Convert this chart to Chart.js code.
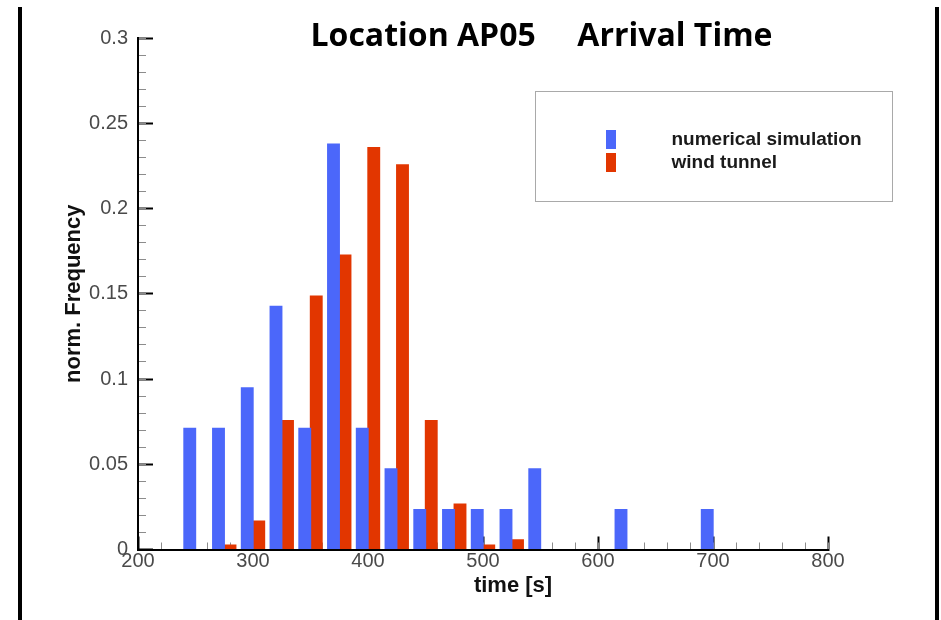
<!DOCTYPE html>
<html><head><meta charset="utf-8">
<script src="https://cdn.jsdelivr.net/npm/chart.js@4.4.1/dist/chart.umd.min.js"></script>
<style>
html,body{margin:0;padding:0;background:#fff;}
#wrap{position:relative;width:941px;height:620px;overflow:hidden;background:#fff;}
#c{position:absolute;left:0;top:0;}
.frame{position:absolute;top:7px;bottom:0;width:4px;background:#000;}
</style></head><body>
<div id="wrap"><canvas id="c" width="941" height="620"></canvas>
<div class="frame" style="left:18px"></div><div class="frame" style="left:935px"></div></div>
<script>
// ---- data ----
const binCenters = [250,275,300,325,350,375,400,425,450,475,500,525,550,575,600,625,650,675,700];
const numericalSimulation = [0.0714,0.0714,0.0952,0.1429,0.0714,0.2381,0.0714,0.0476,0.0238,0.0238,0.0238,0.0238,0.0476,0,0,0.0238,0,0,0.0238];
const windTunnel = [0,0.003,0.017,0.076,0.149,0.173,0.236,0.226,0.076,0.027,0.003,0.006,0,0,0,0,0,0,0];
const xTickLabels = [200,300,400,500,600,700,800];
const yTickLabels = [0,0.05,0.1,0.15,0.2,0.25,0.3];
const seriesNames = ['numerical simulation','wind tunnel'];
const chartTitle = 'Location AP05     Arrival Time';
const xTitle = 'time [s]';
const yTitle = 'norm. Frequency';

const BLUE = '#4b67fa', RED = '#e23600';
Chart.defaults.font.family = "'Liberation Sans', Arial, sans-serif";

function swatch(color){
  const c = document.createElement('canvas'); c.width = 10; c.height = 19;
  const g = c.getContext('2d'); g.fillStyle = color; g.fillRect(0,0,10,19); return c;
}
const swatches = [swatch(BLUE), swatch(RED)];

const placePlugin = {
  id: 'place',
  afterLayout(chart){
    const a = chart.chartArea;
    const L = chart.legend;
    if (L){ L.left = a.left + 418; L.top = a.top + 88.3; L.right = L.left + 400; L.bottom = L.top + 140; }
    const T = chart.titleBlock;
    if (T){ const cx = a.left + 403.5; T.left = cx - 330; T.right = cx + 330; T.top = a.top - 17; T.bottom = T.top + 32; }
    const xt = chart.scales.xTitle;
    if (xt){ xt.left += 30; xt.right += 30; }
  },
  afterDraw(chart){
    const a = chart.chartArea, ctx = chart.ctx;
    ctx.save(); ctx.strokeStyle = '#a9a9a9'; ctx.lineWidth = 1;
    ctx.strokeRect(Math.round(a.left + 397) + 0.5, Math.round(a.top + 53.3) + 0.5, 357, 110);
    ctx.restore();
  }
};

new Chart(document.getElementById('c'), {
  type: 'bar',
  data: {
    datasets: [
      {label: seriesNames[0], xAxisID: 'x', yAxisID: 'y', data: binCenters.map((x,i)=>({x, y: numericalSimulation[i]})), backgroundColor: BLUE, borderWidth: 0},
      {label: seriesNames[1], xAxisID: 'x', yAxisID: 'y', data: binCenters.map((x,i)=>({x, y: windTunnel[i]})), backgroundColor: RED, borderWidth: 0}
    ]
  },
  options: {
    responsive: false, animation: false,
    datasets: {bar: {categoryPercentage: 0.8, barPercentage: 1.12}},
    layout: {padding: {left: 0, right: 113, top: 0, bottom: 0}},
    plugins: {
      tooltip: {enabled: false},
      title: {display: true, text: chartTitle, color: '#000', align: 'center',
              font: {family: "'Open Sans', sans-serif", size: 32, weight: '700', lineHeight: 1},
              padding: {top: 0, bottom: 6}},
      legend: {display: true, position: 'chartArea', align: 'start',
        labels: {usePointStyle: true, pointStyleWidth: 102, padding: 4, color: '#1a1a1a',
                 font: {size: 19, weight: 'bold'},
                 generateLabels: (chart) => Chart.defaults.plugins.legend.labels.generateLabels(chart)
                    .map((it, i) => Object.assign(it, {pointStyle: swatches[i]}))}}
    },
    scales: {
      x: {type: 'linear', axis: 'x', position: 'bottom', weight: 1, min: 200, max: 800, z: 1, offset: false,
          afterBuildTicks: s => { s.ticks = xTickLabels.map(v => ({value: v})); },
          afterFit: s => { s.height = 30; },
          grid: {offset: false, drawOnChartArea: false, tickLength: -13, tickWidth: 2, tickColor: '#000'},
          border: {display: true, color: '#000', width: 2},
          ticks: {padding: 13, color: '#4a4a4a', font: {size: 20}, maxRotation: 0, autoSkip: false, callback: v => String(v)}},
      xMinor: {type: 'linear', axis: 'x', position: 'bottom', weight: 0, min: 200, max: 800, z: 1, offset: false,
          afterFit: s => { s.height = 0; },
          grid: {offset: false, drawOnChartArea: false, tickLength: -7, tickWidth: 1, tickColor: '#8c8c8c'},
          border: {display: false}, ticks: {display: false, stepSize: 20}},
      xTitle: {type: 'linear', axis: 'x', position: 'bottom', weight: 2, min: 200, max: 800, offset: false,
          afterFit: s => { s.height = 40.5; },
          grid: {display: false}, border: {display: false}, ticks: {display: false},
          title: {display: true, text: xTitle, color: '#111', font: {size: 22, weight: 'bold'}, padding: {top: 0, bottom: 21}}},
      y: {type: 'linear', axis: 'y', position: 'left', weight: 1, min: 0, max: 0.3, z: 1,
          afterBuildTicks: s => { s.ticks = yTickLabels.map(v => ({value: v})); },
          afterFit: s => { s.width = 138; },
          grid: {drawOnChartArea: false, tickLength: -15, tickWidth: 2, tickColor: '#000'},
          border: {display: true, color: '#000', width: 2},
          ticks: {padding: 25, color: '#4a4a4a', font: {size: 20}, callback: v => String(v)},
          title: {display: true, text: yTitle, color: '#111', font: {size: 22, weight: 'bold'}, padding: {top: 61, bottom: 0}}},
      yMinor: {type: 'linear', axis: 'y', position: 'left', weight: 0, min: 0, max: 0.3, z: 1,
          afterFit: s => { s.width = 0; },
          grid: {drawOnChartArea: false, tickLength: -8, tickWidth: 1, tickColor: '#8c8c8c'},
          border: {display: false}, ticks: {display: false, stepSize: 0.01}}
    }
  },
  plugins: [placePlugin]
});
</script>
</body></html>
